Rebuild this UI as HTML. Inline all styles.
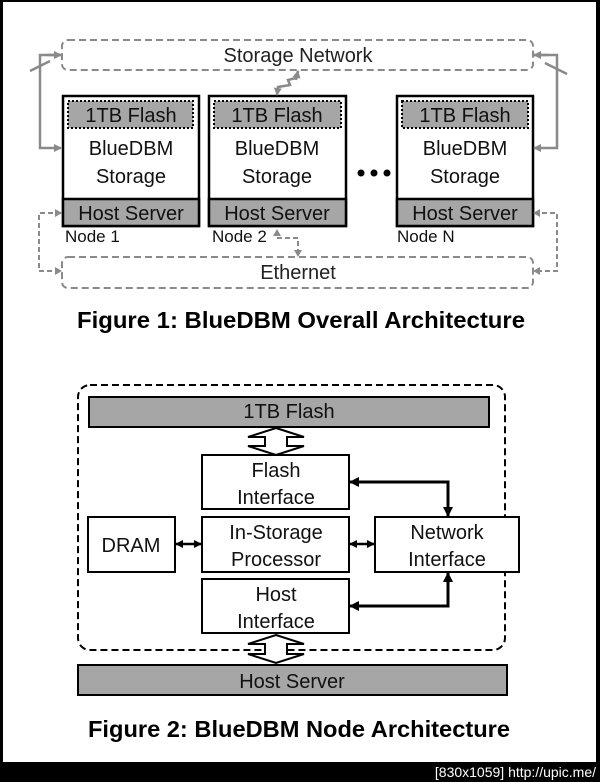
<!DOCTYPE html>
<html><head><meta charset="utf-8"><style>
html,body{margin:0;padding:0;background:#000;}
svg{display:block;}
svg text{font-family:"Liberation Sans",Arial,sans-serif;}
</style></head><body>
<svg width="600" height="782" viewBox="0 0 600 782" xmlns="http://www.w3.org/2000/svg">
<defs>
<marker id="ga" markerWidth="8" markerHeight="8" refX="7" refY="4" orient="auto" markerUnits="userSpaceOnUse"><path d="M0,0 L8,4 L0,8 z" fill="#8a8a8a"/></marker>
<marker id="ka" markerWidth="10" markerHeight="10" refX="9" refY="5" orient="auto" markerUnits="userSpaceOnUse"><path d="M0,0 L10,5 L0,10 z" fill="#000"/></marker>
<marker id="ks" markerWidth="8" markerHeight="8" refX="7" refY="4" orient="auto-start-reverse" markerUnits="userSpaceOnUse"><path d="M0,0 L8,4 L0,8 z" fill="#000"/></marker>
</defs>
<rect x="3" y="2" width="593" height="760" fill="#fff"/>

<!-- Figure 1 -->
<rect x="62" y="40" width="471" height="30" rx="6" fill="none" stroke="#8a8a8a" stroke-width="2" stroke-dasharray="7,4"/>
<text x="298" y="62" font-size="20" text-anchor="middle" fill="#222">Storage Network</text>
<rect x="62" y="257" width="471" height="31" rx="6" fill="none" stroke="#8a8a8a" stroke-width="2" stroke-dasharray="7,4"/>
<text x="298" y="279" font-size="20" text-anchor="middle" fill="#222">Ethernet</text>

<g font-size="20" text-anchor="middle" fill="#111">
<g>
<rect x="63" y="96" width="136" height="130" fill="#fff" stroke="#000" stroke-width="2.5"/>
<rect x="63" y="199" width="136" height="27" fill="#a6a6a6" stroke="#000" stroke-width="2.5"/>
<rect x="68" y="101" width="125" height="27" fill="#a6a6a6" stroke="#000" stroke-width="2" stroke-dasharray="2,2"/>
<text x="131" y="122">1TB Flash</text>
<text x="131" y="155">BlueDBM</text>
<text x="131" y="183">Storage</text>
<text x="131" y="220">Host Server</text>
<text x="65" y="242" text-anchor="start" font-size="17">Node 1</text>
</g>
<g>
<rect x="209" y="96" width="137" height="130" fill="#fff" stroke="#000" stroke-width="2.5"/>
<rect x="209" y="199" width="137" height="27" fill="#a6a6a6" stroke="#000" stroke-width="2.5"/>
<rect x="214" y="101" width="127" height="27" fill="#a6a6a6" stroke="#000" stroke-width="2" stroke-dasharray="2,2"/>
<text x="277" y="122">1TB Flash</text>
<text x="277" y="155">BlueDBM</text>
<text x="277" y="183">Storage</text>
<text x="277" y="220">Host Server</text>
<text x="212" y="242" text-anchor="start" font-size="17">Node 2</text>
</g>
<g>
<rect x="397" y="96" width="136" height="130" fill="#fff" stroke="#000" stroke-width="2.5"/>
<rect x="397" y="199" width="136" height="27" fill="#a6a6a6" stroke="#000" stroke-width="2.5"/>
<rect x="402" y="101" width="126" height="27" fill="#a6a6a6" stroke="#000" stroke-width="2" stroke-dasharray="2,2"/>
<text x="465" y="122">1TB Flash</text>
<text x="465" y="155">BlueDBM</text>
<text x="465" y="183">Storage</text>
<text x="465" y="220">Host Server</text>
<text x="397" y="242" text-anchor="start" font-size="17">Node N</text>
</g>
</g>
<circle cx="361" cy="173" r="3.5" fill="#000"/><circle cx="374" cy="173" r="3.5" fill="#000"/><circle cx="387" cy="173" r="3.5" fill="#000"/>

<g fill="none" stroke="#8a8a8a" stroke-width="2.5">
<path d="M61,55 H40 V148 H61" marker-end="url(#ga)"/>
<path d="M47,55 H61" marker-end="url(#ga)"/>
<line x1="30" y1="71" x2="50" y2="61"/>
<path d="M534,55 H557 V148 H534" marker-end="url(#ga)"/>
<path d="M548,55 H534" marker-end="url(#ga)"/>
<line x1="545" y1="63" x2="567" y2="74"/>
<path d="M298,71 L296,78 L288,80 L290,85 L278,87 L277,95" marker-end="url(#ga)"/>
<path d="M296,80 L298,71" marker-end="url(#ga)"/>
</g>
<g fill="none" stroke="#8a8a8a" stroke-width="2" stroke-dasharray="5,3">
<path d="M61,213 H39 V271 H61"/>
<path d="M534,213 H557 V271 H534"/>
<path d="M277,238 H298 V256"/>
</g>
<g fill="#8a8a8a">
<path d="M62,213 l-7,-4 v8 z"/><path d="M62,271 l-7,-4 v8 z"/>
<path d="M533,213 l7,-4 v8 z"/><path d="M533,271 l7,-4 v8 z"/>
<path d="M277,229 l-4,7 h8 z"/><path d="M298,257 l-4,-7 h8 z"/>
</g>

<text x="301" y="328" font-size="23" font-weight="bold" text-anchor="middle" textLength="448" lengthAdjust="spacingAndGlyphs" fill="#000">Figure 1: BlueDBM Overall Architecture</text>

<!-- Figure 2 -->
<rect x="78" y="385" width="427" height="265" rx="12" fill="none" stroke="#000" stroke-width="2" stroke-dasharray="7,4"/>
<rect x="89" y="397" width="400" height="30" fill="#a6a6a6" stroke="#000" stroke-width="2"/>
<rect x="78" y="665" width="429" height="30" fill="#a6a6a6" stroke="#000" stroke-width="2"/>
<g fill="#fff" stroke="#000" stroke-width="2">
<rect x="202" y="455" width="147" height="54"/>
<rect x="202" y="517" width="147" height="55"/>
<rect x="202" y="579" width="147" height="54"/>
<rect x="88" y="517" width="87" height="55"/>
<rect x="375" y="517" width="144" height="55"/>
</g>
<g fill="#fff" stroke="#000" stroke-width="2">
<path d="M276,428 L304,437 H287 V446 H304 L276,455 L248,446 H265 V437 H248 Z"/>
<path d="M276,635 L304,644 H287 V654 H304 L276,663 L248,654 H265 V644 H248 Z"/>
</g>
<g font-size="20" text-anchor="middle" fill="#111">
<text x="289" y="418">1TB Flash</text>
<text x="276" y="477">Flash</text>
<text x="276" y="504">Interface</text>
<text x="276" y="539">In-Storage</text>
<text x="276" y="566">Processor</text>
<text x="276" y="601">Host</text>
<text x="276" y="628">Interface</text>
<text x="131" y="552">DRAM</text>
<text x="447" y="539">Network</text>
<text x="447" y="566">Interface</text>
<text x="292" y="688">Host Server</text>
</g>
<g fill="none" stroke="#000" stroke-width="3">
<path d="M448,516 V482 H350" marker-end="url(#ka)"/>
<path d="M351,482 H448 V516" marker-end="url(#ka)"/>
<path d="M448,573 V606 H350" marker-end="url(#ka)"/>
<path d="M351,606 H448 V573" marker-end="url(#ka)"/>
</g>
<g stroke="#000" stroke-width="2.5">
<line x1="176" y1="544" x2="201" y2="544" marker-start="url(#ks)" marker-end="url(#ks)"/>
<line x1="350" y1="544" x2="374" y2="544" marker-start="url(#ks)" marker-end="url(#ks)"/>
</g>

<text x="299" y="737" font-size="23" font-weight="bold" text-anchor="middle" textLength="422" lengthAdjust="spacingAndGlyphs" fill="#000">Figure 2: BlueDBM Node Architecture</text>

<text x="596" y="777" font-size="14" text-anchor="end" fill="#fff">[830x1059] http://upic.me/</text>
</svg>
</body></html>
